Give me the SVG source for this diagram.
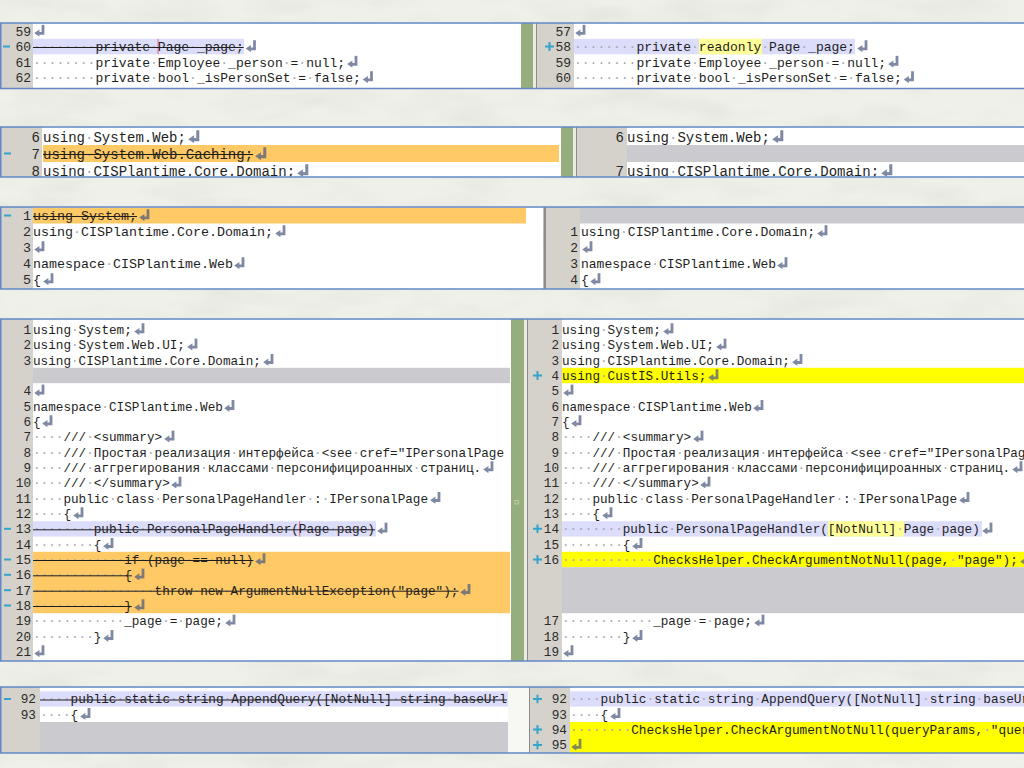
<svg xmlns="http://www.w3.org/2000/svg" width="1024" height="768" viewBox="0 0 1024 768">
<defs>
<style>
.bg{fill:#f0f0ea}
.bd{fill:none;stroke:#6488c7;stroke-width:1.5}
.g{fill:#d5d2cb}
.w{fill:#ffffff}
.gr{fill:#96ae7e}
.sp{fill:#ebebe4}
.vl{fill:#8c8c8c}
.lav{fill:#dcdcfb}
.or{fill:#ffc965}
.ye{fill:#ffff00}
.ly{fill:#ffff99}
.ph{fill:#cbcacf}
.c{font-family:"Liberation Mono","DejaVu Sans Mono",monospace;fill:#1e1e1e}
.n{text-anchor:end;fill:#2a2a2a}
.d{fill:#a8a8b4}
.s{stroke:#1e1e1e;stroke-width:1}
.mk{fill:#35a4ca}
.cur{fill:#e27b8c}
.f1{font-size:13px}
.f2{font-size:14px}
.f3a{font-size:13.33px}
.f3b{font-size:13px}
.f4{font-size:12.67px}
.f5{font-size:12.75px}
</style>
<filter id="tex" x="0" y="0" width="100%" height="100%">
<feTurbulence type="fractalNoise" baseFrequency="0.012 0.035" numOctaves="3" seed="7"/>
<feColorMatrix type="matrix" values="0 0 0 0 0.55  0 0 0 0 0.55  0 0 0 0 0.52  0.9 0 0 0 -0.38"/>
</filter>
<symbol id="r" viewBox="0 0 11 12"><path d="M7.6 0.3h2.8v10H5.4v1.9L0.2 8.6 5.4 4.9v2.5h2.2z" fill="#4d5b80" fill-opacity="0.72"/></symbol>
<symbol id="p" viewBox="0 0 9 9"><path d="M3.5 0h2v3.5H9v2H5.5V9h-2V5.5H0v-2h3.5z"/></symbol>
<clipPath id="c1L"><rect x="0" y="23" width="521" height="65"/></clipPath>
<clipPath id="c1R"><rect x="537" y="23" width="487" height="65"/></clipPath>
<clipPath id="c2L"><rect x="0" y="127" width="561" height="49.5"/></clipPath>
<clipPath id="c2R"><rect x="577" y="127" width="447" height="49.5"/></clipPath>
<clipPath id="c3L"><rect x="0" y="207" width="543" height="82"/></clipPath>
<clipPath id="c3R"><rect x="546" y="207" width="478" height="82"/></clipPath>
<clipPath id="c4L"><rect x="0" y="319" width="510" height="342"/></clipPath>
<clipPath id="c4R"><rect x="528" y="319" width="496" height="342"/></clipPath>
<clipPath id="c5L"><rect x="0" y="687" width="508" height="66"/></clipPath>
<clipPath id="c5R"><rect x="530" y="687" width="494" height="66"/></clipPath>
</defs>
<rect class="bg" x="0" y="0" width="1024" height="768"/>
<rect x="0" y="0" width="1024" height="768" filter="url(#tex)" opacity="0.5"/>

<g id="panel-1">
<rect class="g" x="0" y="23" width="33" height="65"/>
<rect class="w" x="33" y="23" width="488" height="65"/>
<rect class="gr" x="521" y="23" width="12" height="65"/>
<rect class="sp" x="533" y="23" width="3" height="65"/>
<rect class="vl" x="536" y="23" width="1" height="65"/>
<rect class="g" x="537" y="23" width="37" height="65"/>
<rect class="w" x="574" y="23" width="450" height="65"/>
<rect class="lav" x="33" y="38.8" width="211" height="15.5"/>
<rect class="lav" x="574" y="38.8" width="281" height="15.5"/>
<rect class="ly" x="699" y="38.8" width="63" height="15.5"/>
<rect class="cur" x="157.5" y="38.8" width="1.2" height="15.5"/>
<rect class="mk" x="3" y="45.5" width="7" height="2"/>
<use href="#p" class="mk" x="545" y="42" width="9" height="9"/>
<g class="c f1" clip-path="url(#c1L)">
<text class="n" x="31" y="35.5">59</text>
<text class="n" x="31" y="51">60</text>
<text class="n" x="31" y="66.5">61</text>
<text class="n" x="31" y="82">62</text>
<text x="33" y="51"><tspan class="d">········</tspan>private<tspan class="d">·</tspan>Page<tspan class="d">·</tspan>_page;</text>
<text x="33" y="66.5"><tspan class="d">········</tspan>private<tspan class="d">·</tspan>Employee<tspan class="d">·</tspan>_person<tspan class="d">·</tspan>=<tspan class="d">·</tspan>null;</text>
<text x="33" y="82"><tspan class="d">········</tspan>private<tspan class="d">·</tspan>bool<tspan class="d">·</tspan>_isPersonSet<tspan class="d">·</tspan>=<tspan class="d">·</tspan>false;</text>
<line class="s" x1="33" y1="47.5" x2="243.6" y2="47.5"/>
<use href="#r" x="34" y="24.5" width="11" height="12"/>
<use href="#r" x="245.5" y="40" width="11" height="12"/>
<use href="#r" x="347" y="55.5" width="11" height="12"/>
<use href="#r" x="362.5" y="71" width="11" height="12"/>
</g>
<g class="c f1" clip-path="url(#c1R)">
<text class="n" x="571" y="35.5">57</text>
<text class="n" x="571" y="51">58</text>
<text class="n" x="571" y="66.5">59</text>
<text class="n" x="571" y="82">60</text>
<text x="574" y="51"><tspan class="d">········</tspan>private<tspan class="d">·</tspan>readonly<tspan class="d">·</tspan>Page<tspan class="d">·</tspan>_page;</text>
<text x="574" y="66.5"><tspan class="d">········</tspan>private<tspan class="d">·</tspan>Employee<tspan class="d">·</tspan>_person<tspan class="d">·</tspan>=<tspan class="d">·</tspan>null;</text>
<text x="574" y="82"><tspan class="d">········</tspan>private<tspan class="d">·</tspan>bool<tspan class="d">·</tspan>_isPersonSet<tspan class="d">·</tspan>=<tspan class="d">·</tspan>false;</text>
<use href="#r" x="575" y="24.5" width="11" height="12"/>
<use href="#r" x="857" y="40" width="11" height="12"/>
<use href="#r" x="888" y="55.5" width="11" height="12"/>
<use href="#r" x="903.5" y="71" width="11" height="12"/>
</g>
<rect class="bd" x="0.75" y="23" width="1030" height="65.5"/>
</g>

<g id="panel-2">
<rect class="g" x="0" y="127" width="42" height="50"/>
<rect class="w" x="42" y="127" width="519" height="50"/>
<rect class="gr" x="561" y="127" width="12" height="50"/>
<rect class="sp" x="573" y="127" width="3" height="50"/>
<rect class="vl" x="576" y="127" width="1" height="50"/>
<rect class="g" x="577" y="127" width="50" height="50"/>
<rect class="w" x="627" y="127" width="397" height="50"/>
<rect class="or" x="43" y="145" width="516" height="17"/>
<rect class="ph" x="627" y="145" width="397" height="17"/>
<rect class="mk" x="4" y="152.5" width="7" height="2"/>
<g class="c f2" clip-path="url(#c2L)">
<text class="n" x="40" y="141.5">6</text>
<text class="n" x="40" y="158.5">7</text>
<text class="n" x="40" y="175.5">8</text>
<text x="43" y="141.5">using<tspan class="d">·</tspan>System.Web;</text>
<text x="43" y="158.5">using<tspan class="d">·</tspan>System.Web.Caching;</text>
<text x="43" y="175.5">using<tspan class="d">·</tspan>CISPlantime.Core.Domain;</text>
<line class="s" x1="43" y1="154.5" x2="253" y2="154.5"/>
<use href="#r" x="188" y="130" width="12" height="13"/>
<use href="#r" x="255" y="147" width="12" height="13"/>
<use href="#r" x="297" y="164" width="12" height="13"/>
</g>
<g class="c f2" clip-path="url(#c2R)">
<text class="n" x="624" y="141.5">6</text>
<text class="n" x="624" y="175.5">7</text>
<text x="627" y="141.5">using<tspan class="d">·</tspan>System.Web;</text>
<text x="627" y="175.5">using<tspan class="d">·</tspan>CISPlantime.Core.Domain;</text>
<use href="#r" x="772" y="130" width="12" height="13"/>
<use href="#r" x="881" y="164" width="12" height="13"/>
</g>
<rect class="bd" x="0.75" y="127" width="1030" height="50"/>
</g>

<g id="panel-3">
<rect class="g" x="0" y="207" width="33" height="82"/>
<rect class="w" x="33" y="207" width="510" height="82"/>
<rect class="vl" x="543.5" y="207" width="2.5" height="82"/>
<rect class="g" x="546" y="207" width="34" height="82"/>
<rect class="w" x="580" y="207" width="444" height="82"/>
<rect class="or" x="33" y="207.5" width="493" height="16"/>
<rect class="ph" x="580" y="207.5" width="444" height="16"/>
<rect class="mk" x="4" y="214.5" width="7" height="2"/>
<g class="c f3a" clip-path="url(#c3L)">
<text class="n" x="31" y="220.1">1</text>
<text class="n" x="31" y="236.1">2</text>
<text class="n" x="31" y="252.1">3</text>
<text class="n" x="31" y="268.1">4</text>
<text class="n" x="31" y="284.1">5</text>
<text x="33" y="220.1">using<tspan class="d">·</tspan>System;</text>
<text x="33" y="236.1">using<tspan class="d">·</tspan>CISPlantime.Core.Domain;</text>
<text x="33" y="268.1">namespace<tspan class="d">·</tspan>CISPlantime.Web</text>
<text x="33" y="284.1">{</text>
<line class="s" x1="33" y1="216.5" x2="137" y2="216.5"/>
<use href="#r" x="139" y="209" width="11" height="12"/>
<use href="#r" x="275" y="225" width="11" height="12"/>
<use href="#r" x="34" y="241" width="11" height="12"/>
<use href="#r" x="234" y="257" width="11" height="12"/>
<use href="#r" x="43" y="273" width="11" height="12"/>
</g>
<g class="c f3b" clip-path="url(#c3R)">
<text class="n" x="578" y="236">1</text>
<text class="n" x="578" y="252">2</text>
<text class="n" x="578" y="268">3</text>
<text class="n" x="578" y="284">4</text>
<text x="581" y="236">using<tspan class="d">·</tspan>CISPlantime.Core.Domain;</text>
<text x="581" y="268">namespace<tspan class="d">·</tspan>CISPlantime.Web</text>
<text x="581" y="284">{</text>
<use href="#r" x="817" y="225" width="11" height="12"/>
<use href="#r" x="582" y="241" width="11" height="12"/>
<use href="#r" x="777" y="257" width="11" height="12"/>
<use href="#r" x="590" y="273" width="11" height="12"/>
</g>
<rect class="bd" x="0.75" y="207" width="1030" height="82"/>
</g>

<g id="panel-4">
<rect class="g" x="0" y="319" width="33" height="342"/>
<rect class="w" x="33" y="319" width="478" height="342"/>
<rect class="gr" x="511" y="319" width="13" height="342"/>
<rect class="sp" x="524" y="319" width="3" height="342"/>
<rect class="vl" x="527" y="319" width="1" height="342"/>
<rect class="g" x="528" y="319" width="34" height="342"/>
<rect class="w" x="562" y="319" width="462" height="342"/>
<rect x="515" y="500.5" width="3.5" height="3.5" fill="none" stroke="#c4d2b4" stroke-width="0.8"/>
<rect class="ph" x="33" y="367.8" width="477" height="15.4"/>
<rect class="lav" x="33" y="521.2" width="343" height="15.4"/>
<rect class="or" x="33" y="551.8" width="477" height="61.4"/>
<rect class="cur" x="299" y="521.2" width="1.2" height="15.4"/>
<rect class="ye" x="562" y="367.8" width="462" height="15.4"/>
<rect class="lav" x="562" y="521.2" width="420" height="15.4"/>
<rect class="ly" x="828" y="521.2" width="76" height="15.4"/>
<rect class="ye" x="562" y="551.8" width="462" height="15.4"/>
<rect class="ph" x="562" y="567.2" width="462" height="46"/>
<rect class="mk" x="4" y="527.8" width="7" height="2"/>
<rect class="mk" x="4" y="558.5" width="7" height="2"/>
<rect class="mk" x="4" y="573.8" width="7" height="2"/>
<rect class="mk" x="4" y="589.2" width="7" height="2"/>
<rect class="mk" x="4" y="604.5" width="7" height="2"/>
<use href="#p" class="mk" x="533" y="371" width="9" height="9"/>
<use href="#p" class="mk" x="533" y="524.3" width="9" height="9"/>
<use href="#p" class="mk" x="533" y="555" width="9" height="9"/>
<g class="c f4" clip-path="url(#c4L)">
<text class="n" x="31" y="333.9">1</text>
<text class="n" x="31" y="349.2">2</text>
<text class="n" x="31" y="364.6">3</text>
<text class="n" x="31" y="395.2">4</text>
<text class="n" x="31" y="410.6">5</text>
<text class="n" x="31" y="425.9">6</text>
<text class="n" x="31" y="441.2">7</text>
<text class="n" x="31" y="456.6">8</text>
<text class="n" x="31" y="471.9">9</text>
<text class="n" x="31" y="487.2">10</text>
<text class="n" x="31" y="502.6">11</text>
<text class="n" x="31" y="517.9">12</text>
<text class="n" x="31" y="533.2">13</text>
<text class="n" x="31" y="548.6">14</text>
<text class="n" x="31" y="563.9">15</text>
<text class="n" x="31" y="579.2">16</text>
<text class="n" x="31" y="594.6">17</text>
<text class="n" x="31" y="609.9">18</text>
<text class="n" x="31" y="625.2">19</text>
<text class="n" x="31" y="640.6">20</text>
<text class="n" x="31" y="655.9">21</text>
<text x="33" y="333.9">using<tspan class="d">·</tspan>System;</text>
<text x="33" y="349.2">using<tspan class="d">·</tspan>System.Web.UI;</text>
<text x="33" y="364.6">using<tspan class="d">·</tspan>CISPlantime.Core.Domain;</text>
<text x="33" y="410.6">namespace<tspan class="d">·</tspan>CISPlantime.Web</text>
<text x="33" y="425.9">{</text>
<text x="33" y="441.2"><tspan class="d">····</tspan>///<tspan class="d">·</tspan>&lt;summary&gt;</text>
<text x="33" y="456.6"><tspan class="d">····</tspan>///<tspan class="d">·</tspan>Простая<tspan class="d">·</tspan>реализация<tspan class="d">·</tspan>интерфейса<tspan class="d">·</tspan>&lt;see<tspan class="d">·</tspan>cref="IPersonalPage</text>
<text x="33" y="471.9"><tspan class="d">····</tspan>///<tspan class="d">·</tspan>аггрегирования<tspan class="d">·</tspan>классами<tspan class="d">·</tspan>персонифицироанных<tspan class="d">·</tspan>страниц.</text>
<text x="33" y="487.2"><tspan class="d">····</tspan>///<tspan class="d">·</tspan>&lt;/summary&gt;</text>
<text x="33" y="502.6"><tspan class="d">····</tspan>public<tspan class="d">·</tspan>class<tspan class="d">·</tspan>PersonalPageHandler<tspan class="d">·</tspan>:<tspan class="d">·</tspan>IPersonalPage</text>
<text x="33" y="517.9"><tspan class="d">····</tspan>{</text>
<text x="33" y="533.2"><tspan class="d">········</tspan>public<tspan class="d">·</tspan>PersonalPageHandler(Page<tspan class="d">·</tspan>page)</text>
<text x="33" y="548.6"><tspan class="d">········</tspan>{</text>
<text x="33" y="563.9"><tspan class="d">············</tspan>if<tspan class="d">·</tspan>(page<tspan class="d">·</tspan>==<tspan class="d">·</tspan>null)</text>
<text x="33" y="579.2"><tspan class="d">············</tspan>{</text>
<text x="33" y="594.6"><tspan class="d">················</tspan>throw<tspan class="d">·</tspan>new<tspan class="d">·</tspan>ArgumentNullException("page");</text>
<text x="33" y="609.9"><tspan class="d">············</tspan>}</text>
<text x="33" y="625.2"><tspan class="d">············</tspan>_page<tspan class="d">·</tspan>=<tspan class="d">·</tspan>page;</text>
<text x="33" y="640.6"><tspan class="d">········</tspan>}</text>
<line class="s" x1="33" y1="529.8" x2="375" y2="529.8"/>
<line class="s" x1="33" y1="560.5" x2="253.4" y2="560.5"/>
<line class="s" x1="33" y1="575.8" x2="131.8" y2="575.8"/>
<line class="s" x1="33" y1="591.2" x2="458.6" y2="591.2"/>
<line class="s" x1="33" y1="606.5" x2="131.8" y2="606.5"/>
<use href="#r" x="134" y="323" width="11" height="12"/>
<use href="#r" x="187" y="338.3" width="11" height="12"/>
<use href="#r" x="263" y="353.7" width="11" height="12"/>
<use href="#r" x="34" y="384.3" width="11" height="12"/>
<use href="#r" x="224" y="399.7" width="11" height="12"/>
<use href="#r" x="42" y="415" width="11" height="12"/>
<use href="#r" x="164" y="430.3" width="11" height="12"/>
<use href="#r" x="483" y="461" width="11" height="12"/>
<use href="#r" x="171" y="476.3" width="11" height="12"/>
<use href="#r" x="430" y="491.7" width="11" height="12"/>
<use href="#r" x="73" y="507" width="11" height="12"/>
<use href="#r" x="377" y="522.3" width="11" height="12"/>
<use href="#r" x="103" y="537.7" width="11" height="12"/>
<use href="#r" x="255" y="553" width="11" height="12"/>
<use href="#r" x="134" y="568.3" width="11" height="12"/>
<use href="#r" x="460" y="583.7" width="11" height="12"/>
<use href="#r" x="134" y="599" width="11" height="12"/>
<use href="#r" x="225" y="614.3" width="11" height="12"/>
<use href="#r" x="103" y="629.7" width="11" height="12"/>
<use href="#r" x="34" y="645" width="11" height="12"/>
</g>
<g class="c f4" clip-path="url(#c4R)">
<text class="n" x="559" y="333.9">1</text>
<text class="n" x="559" y="349.2">2</text>
<text class="n" x="559" y="364.6">3</text>
<text class="n" x="559" y="379.9">4</text>
<text class="n" x="559" y="395.2">5</text>
<text class="n" x="559" y="410.6">6</text>
<text class="n" x="559" y="425.9">7</text>
<text class="n" x="559" y="441.2">8</text>
<text class="n" x="559" y="456.6">9</text>
<text class="n" x="559" y="471.9">10</text>
<text class="n" x="559" y="487.2">11</text>
<text class="n" x="559" y="502.6">12</text>
<text class="n" x="559" y="517.9">13</text>
<text class="n" x="559" y="533.2">14</text>
<text class="n" x="559" y="548.6">15</text>
<text class="n" x="559" y="563.9">16</text>
<text class="n" x="559" y="625.2">17</text>
<text class="n" x="559" y="640.6">18</text>
<text class="n" x="559" y="655.9">19</text>
<text x="562" y="333.9">using<tspan class="d">·</tspan>System;</text>
<text x="562" y="349.2">using<tspan class="d">·</tspan>System.Web.UI;</text>
<text x="562" y="364.6">using<tspan class="d">·</tspan>CISPlantime.Core.Domain;</text>
<text x="562" y="379.9">using<tspan class="d">·</tspan>CustIS.Utils;</text>
<text x="562" y="410.6">namespace<tspan class="d">·</tspan>CISPlantime.Web</text>
<text x="562" y="425.9">{</text>
<text x="562" y="441.2"><tspan class="d">····</tspan>///<tspan class="d">·</tspan>&lt;summary&gt;</text>
<text x="562" y="456.6"><tspan class="d">····</tspan>///<tspan class="d">·</tspan>Простая<tspan class="d">·</tspan>реализация<tspan class="d">·</tspan>интерфейса<tspan class="d">·</tspan>&lt;see<tspan class="d">·</tspan>cref="IPersonalPage</text>
<text x="562" y="471.9"><tspan class="d">····</tspan>///<tspan class="d">·</tspan>аггрегирования<tspan class="d">·</tspan>классами<tspan class="d">·</tspan>персонифицироанных<tspan class="d">·</tspan>страниц.</text>
<text x="562" y="487.2"><tspan class="d">····</tspan>///<tspan class="d">·</tspan>&lt;/summary&gt;</text>
<text x="562" y="502.6"><tspan class="d">····</tspan>public<tspan class="d">·</tspan>class<tspan class="d">·</tspan>PersonalPageHandler<tspan class="d">·</tspan>:<tspan class="d">·</tspan>IPersonalPage</text>
<text x="562" y="517.9"><tspan class="d">····</tspan>{</text>
<text x="562" y="533.2"><tspan class="d">········</tspan>public<tspan class="d">·</tspan>PersonalPageHandler([NotNull]<tspan class="d">·</tspan>Page<tspan class="d">·</tspan>page)</text>
<text x="562" y="548.6"><tspan class="d">········</tspan>{</text>
<text x="562" y="563.9"><tspan class="d">············</tspan>ChecksHelper.CheckArgumentNotNull(page,<tspan class="d">·</tspan>"page");</text>
<text x="562" y="625.2"><tspan class="d">············</tspan>_page<tspan class="d">·</tspan>=<tspan class="d">·</tspan>page;</text>
<text x="562" y="640.6"><tspan class="d">········</tspan>}</text>
<use href="#r" x="663" y="323" width="11" height="12"/>
<use href="#r" x="716" y="338.3" width="11" height="12"/>
<use href="#r" x="792" y="353.7" width="11" height="12"/>
<use href="#r" x="708" y="369" width="11" height="12"/>
<use href="#r" x="563" y="384.3" width="11" height="12"/>
<use href="#r" x="753" y="399.7" width="11" height="12"/>
<use href="#r" x="571" y="415" width="11" height="12"/>
<use href="#r" x="693" y="430.3" width="11" height="12"/>
<use href="#r" x="1012" y="461" width="11" height="12"/>
<use href="#r" x="700" y="476.3" width="11" height="12"/>
<use href="#r" x="959" y="491.7" width="11" height="12"/>
<use href="#r" x="602" y="507" width="11" height="12"/>
<use href="#r" x="982" y="522.3" width="11" height="12"/>
<use href="#r" x="632" y="537.7" width="11" height="12"/>
<use href="#r" x="1020" y="553" width="11" height="12"/>
<use href="#r" x="754" y="614.3" width="11" height="12"/>
<use href="#r" x="632" y="629.7" width="11" height="12"/>
<use href="#r" x="563" y="645" width="11" height="12"/>
</g>
<rect class="bd" x="0.75" y="319" width="1030" height="342"/>
</g>

<g id="panel-5">
<rect class="g" x="0" y="687" width="40" height="66"/>
<rect class="w" x="40" y="687" width="468" height="66"/>
<rect fill="#f7f7f3" x="508" y="687" width="21" height="66"/>
<rect class="vl" x="529" y="687" width="1" height="66"/>
<rect class="g" x="530" y="687" width="40" height="66"/>
<rect class="w" x="570" y="687" width="454" height="66"/>
<rect class="lav" x="40" y="691.3" width="468" height="15.3"/>
<rect class="ph" x="40" y="722" width="468" height="31"/>
<rect class="lav" x="570" y="691.3" width="454" height="15.3"/>
<rect class="ye" x="570" y="722" width="454" height="31"/>
<rect class="mk" x="4" y="698" width="7" height="2"/>
<use href="#p" class="mk" x="533" y="694.5" width="9" height="9"/>
<use href="#p" class="mk" x="533" y="725.1" width="9" height="9"/>
<use href="#p" class="mk" x="533" y="740.5" width="9" height="9"/>
<g class="c f5" clip-path="url(#c5L)">
<text class="n" x="36" y="703.4">92</text>
<text class="n" x="36" y="718.7">93</text>
<text x="40" y="703.4"><tspan class="d">····</tspan>public<tspan class="d">·</tspan>static<tspan class="d">·</tspan>string<tspan class="d">·</tspan>AppendQuery([NotNull]<tspan class="d">·</tspan>string<tspan class="d">·</tspan>baseUrl</text>
<text x="40" y="718.7"><tspan class="d">····</tspan>{</text>
<line class="s" x1="40" y1="700" x2="507" y2="700"/>
<use href="#r" x="80" y="707.8" width="11" height="12"/>
</g>
<g class="c f5" clip-path="url(#c5R)">
<text class="n" x="567" y="703.4">92</text>
<text class="n" x="567" y="718.7">93</text>
<text class="n" x="567" y="734">94</text>
<text class="n" x="567" y="749.4">95</text>
<text x="570" y="703.4"><tspan class="d">····</tspan>public<tspan class="d">·</tspan>static<tspan class="d">·</tspan>string<tspan class="d">·</tspan>AppendQuery([NotNull]<tspan class="d">·</tspan>string<tspan class="d">·</tspan>baseUrl,</text>
<text x="570" y="718.7"><tspan class="d">····</tspan>{</text>
<text x="570" y="734"><tspan class="d">········</tspan>ChecksHelper.CheckArgumentNotNull(queryParams,<tspan class="d">·</tspan>"queryParams");</text>
<use href="#r" x="610" y="707.8" width="11" height="12"/>
<use href="#r" x="571" y="738.5" width="11" height="12"/>
</g>
<rect class="bd" x="0.75" y="687" width="1030" height="66"/>
</g>

<g id="connectors"/>
</svg>
